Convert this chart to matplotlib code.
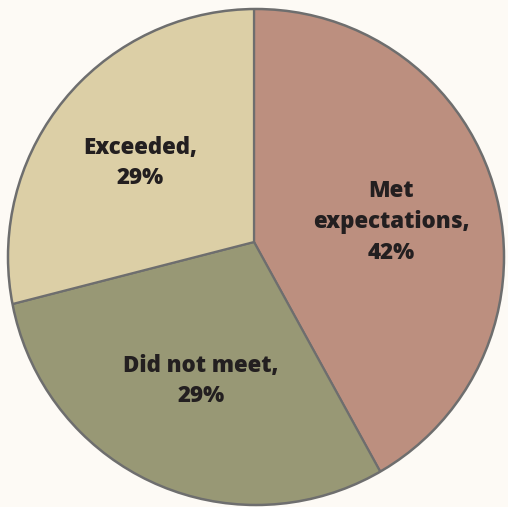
import matplotlib.pyplot as plt
from matplotlib.patches import Circle

categories = ['Met\nexpectations', 'Did not meet', 'Exceeded']
values = [42, 29, 29]
colors = ['#bc8f7f', '#989875', '#dccfa6']
label_pos = [(391, 285), (201, 126), (140, 344)]

fig = plt.figure(figsize=(5.08, 5.07), dpi=100)
fig.patch.set_facecolor('#fdfaf5')
ax = fig.add_axes([0, 0, 1, 1])
ax.set_facecolor('#fdfaf5')

# wedge apex sits a bit above the circle's centre in the original
wedges, _ = ax.pie(values, colors=colors, startangle=90, counterclock=False,
                   center=(254, 265), radius=320,
                   wedgeprops=dict(edgecolor='#6e6e6e', linewidth=1.6))

ax.set_xlim(0, 508)
ax.set_ylim(0, 507)
ax.set_aspect('equal')

outline = Circle((256, 250), 248, facecolor='none',
                 edgecolor='#6e6e6e', linewidth=1.8)
ax.add_patch(outline)
for w in wedges:
    w.set_clip_on(True)
    w.set_clip_path(outline)

for cat, val, (x, y) in zip(categories, values, label_pos):
    ax.text(x, y, f'{cat},\n{val}%', ha='center', va='center', fontsize=16,
            fontweight=800, family='Open Sans', color='#231f20', linespacing=1.38)

ax.axis('off')
fig.savefig('out.png', dpi=100, facecolor=fig.get_facecolor())
